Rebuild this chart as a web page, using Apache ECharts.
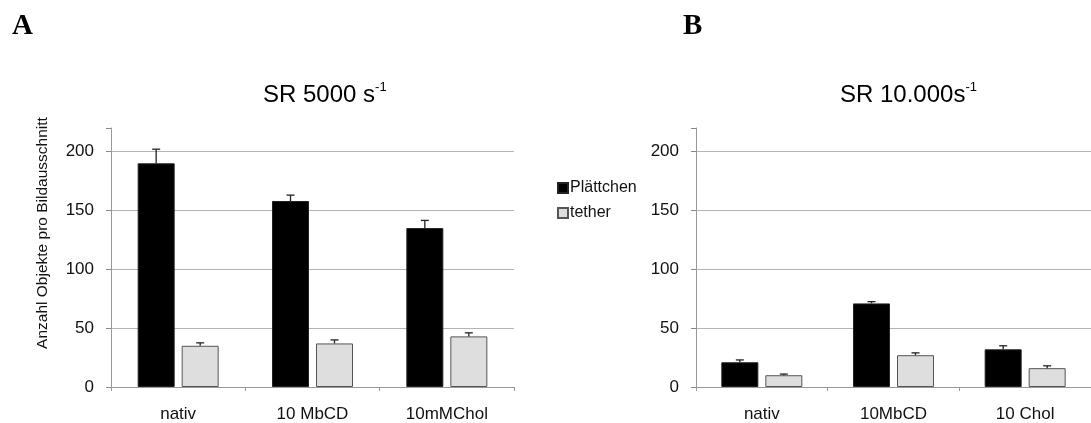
<!DOCTYPE html>
<html>
<head>
<meta charset="utf-8">
<script src="https://cdn.jsdelivr.net/npm/echarts@6/dist/echarts.min.js"></script>
<style>
  html, body { margin: 0; padding: 0; background: #fff; }
  #chart { width: 1091px; height: 423px; }
</style>
</head>
<body>
<div id="chart"></div>
<script>
// Categories of the two panels
const categoriesA = ['nativ', '10 MbCD', '10mMChol'];
const categoriesB = ['nativ', '10MbCD', '10 Chol'];

// Panel A: shear rate 5000 s^-1
const plaettchenA = [190, 158, 135];
const plaettchenErrA = [12, 5, 6.5];
const tetherA = [35, 37, 43];
const tetherErrA = [2.5, 3, 3];

// Panel B: shear rate 10.000 s^-1
const plaettchenB = [21, 71, 32];
const plaettchenErrB = [2, 1.5, 3];
const tetherB = [10, 27, 16];
const tetherErrB = [1, 2, 2];

// Value-axis ticks
const yTicks = [0, 50, 100, 150, 200];

const FONT = "'Liberation Sans', Arial, Helvetica, sans-serif";
const BAR_W = 37;
const BAR_GAP_PX = 7;
const SERIES_OFFSET = (BAR_W + BAR_GAP_PX) / 2;

const chart = echarts.init(document.getElementById('chart'), null, { renderer: 'canvas' });

function withErr(values, errs) {
  return values.map((v, i) => [i, v, errs[i]]);
}

// Upward-only error whisker with a short cap, shifted onto its bar
function errorRenderer(sign) {
  return function (params, api) {
    const base = api.coord([api.value(0), api.value(1)]);
    const top = api.coord([api.value(0), api.value(1) + api.value(2)]);
    const x = base[0] + sign * SERIES_OFFSET;
    const style = { stroke: '#222', lineWidth: 1.3 };
    return {
      type: 'group',
      children: [
        { type: 'line', shape: { x1: x, y1: base[1], x2: x, y2: top[1] }, style: style },
        { type: 'line', shape: { x1: x - 4, y1: top[1], x2: x + 4, y2: top[1] }, style: style }
      ]
    };
  };
}

const blackStyle = { color: '#000', borderColor: '#222', borderWidth: 1 };
const greyStyle = { color: '#dedede', borderColor: '#555', borderWidth: 1 };

function xAxisFor(gridIndex, cats) {
  return {
    type: 'category', gridIndex: gridIndex, data: cats,
    axisLine: { show: true, lineStyle: { color: '#999', width: 1 } },
    axisTick: { show: true, length: 4, lineStyle: { color: '#999' } },
    axisLabel: { color: '#111', fontSize: 17, fontFamily: FONT, margin: 19 },
    splitLine: { show: false }
  };
}

function yAxisFor(gridIndex) {
  return {
    type: 'value', gridIndex: gridIndex, min: 0, max: 220, interval: 50,
    axisLine: { show: true, lineStyle: { color: '#999', width: 1 } },
    axisTick: { show: true, inside: false, length: 5, lineStyle: { color: '#888', width: 1 } },
    axisLabel: { color: '#111', fontSize: 17, fontFamily: FONT, margin: 17, customValues: yTicks },
    splitLine: { show: true, showMaxLine: false, lineStyle: { color: '#b4b4b4', width: 1 } }
  };
}

function barSeries(name, data, idx, style) {
  return {
    name: name, type: 'bar', xAxisIndex: idx, yAxisIndex: idx, data: data,
    barWidth: BAR_W, barGap: (BAR_GAP_PX / BAR_W * 100) + '%',
    itemStyle: style, emphasis: { disabled: true }, animation: false
  };
}

function errSeries(values, errs, idx, sign) {
  return {
    type: 'custom', xAxisIndex: idx, yAxisIndex: idx,
    data: withErr(values, errs), renderItem: errorRenderer(sign),
    z: 5, silent: true, animation: false
  };
}

function titleRich() {
  return {
    m: { fontFamily: FONT, fontSize: 24, fontWeight: 'normal', color: '#000', lineHeight: 28 },
    s: { fontFamily: FONT, fontSize: 13, fontWeight: 'normal', color: '#000', verticalAlign: 'top', lineHeight: 14 }
  };
}

const letterStyle = { fontFamily: "'Liberation Serif', 'Times New Roman', serif", fontWeight: 'bold', fontSize: 29, color: '#000' };

chart.setOption({
  backgroundColor: '#fff',
  animation: false,
  title: [
    { text: 'A', left: 7, top: 7, textStyle: letterStyle },
    { text: 'B', left: 678, top: 7, textStyle: letterStyle },
    { text: '{m|SR 5000 s}{s|-1}', left: 258, top: 76, textStyle: { fontWeight: 'normal', rich: titleRich() } },
    { text: '{m|SR 10.000s}{s|-1}', left: 835, top: 76, textStyle: { fontWeight: 'normal', rich: titleRich() } }
  ],
  legend: {
    orient: 'vertical', left: 552, top: 175,
    data: ['Plättchen', 'tether'],
    icon: 'rect', itemWidth: 10, itemHeight: 10, itemGap: 9,
    textStyle: { fontFamily: FONT, fontSize: 16, color: '#111', padding: [0, 0, 0, -3] },
    selectedMode: false
  },
  grid: [
    { left: 111, top: 128, width: 403, height: 260 },
    { left: 696, top: 128, width: 401, height: 260 }
  ],
  xAxis: [xAxisFor(0, categoriesA), xAxisFor(1, categoriesB)],
  yAxis: [yAxisFor(0), yAxisFor(1)],
  graphic: [
    {
      type: 'text', x: 43, y: 233, rotation: Math.PI / 2,
      style: { text: 'Anzahl Objekte pro Bildausschnitt', fontFamily: FONT, fontSize: 15.5, fill: '#111', align: 'center', verticalAlign: 'middle' }
    }
  ],
  series: [
    barSeries('Plättchen', plaettchenA, 0, blackStyle),
    barSeries('tether', tetherA, 0, greyStyle),
    barSeries('Plättchen', plaettchenB, 1, blackStyle),
    barSeries('tether', tetherB, 1, greyStyle),
    errSeries(plaettchenA, plaettchenErrA, 0, -1),
    errSeries(tetherA, tetherErrA, 0, 1),
    errSeries(plaettchenB, plaettchenErrB, 1, -1),
    errSeries(tetherB, tetherErrB, 1, 1)
  ]
});
</script>
</body>
</html>
